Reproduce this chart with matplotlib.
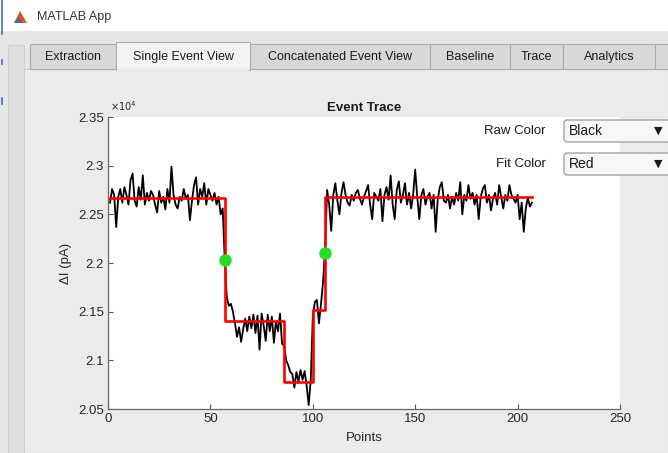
import numpy as np
import matplotlib
matplotlib.use('Agg')
import matplotlib.pyplot as plt
from matplotlib.patches import Rectangle, FancyBboxPatch, Polygon

plt.rcParams['font.family'] = ['Liberation Sans', 'DejaVu Sans']

# raw event trace (pA), one value per point
raw_current = [
    22620, 22760, 22700, 22370, 22680, 22760, 22620, 22780, 22700, 22600,
    22850, 22920, 22640, 22580, 22780, 22650, 22900, 22600, 22720, 22640,
    22740, 22700, 22600, 22520, 22740, 22620, 22680, 22550, 22760, 22620,
    22990, 22700, 22600, 22560, 22680, 22640, 22760, 22660, 22700, 22440,
    22640, 22800, 22880, 22600, 22760, 22680, 22820, 22600, 22760, 22700,
    22640, 22720, 22600, 22680, 22500, 22560,
    22030,
    21650, 21560, 21580, 21500, 21380, 21240, 21340, 21190, 21320, 21430,
    21300, 21450, 21330, 21470, 21280, 21460, 21110, 21480, 21360, 21200,
    21470, 21300, 21450, 21180, 21400, 21300, 21480, 21170,
    21150, 21000, 20950, 20880, 20860, 20720, 20880, 20780, 20900, 20800,
    20890, 20740, 20540, 20800,
    21450, 21600, 21620, 21380, 21580, 21800, 22150,
    22750, 22600, 22330, 22700, 22820, 22640, 22500, 22720, 22830, 22700,
    22620, 22590, 22700, 22640, 22720, 22750, 22660, 22600, 22680, 22740,
    22800, 22600, 22450, 22720, 22680, 22640, 22760, 22430, 22700, 22780,
    22650, 22900, 22600, 22450, 22750, 22840, 22620, 22700, 22820, 22600,
    22720, 22560, 22700, 22960, 22680, 22450, 22700, 22760, 22600, 22680,
    22720, 22560, 22700, 22320, 22650, 22780, 22830, 22640, 22620, 22700,
    22560, 22680, 22600, 22720, 22640, 22830, 22500, 22700, 22640, 22800,
    22660, 22720, 22600, 22700, 22450, 22680, 22760, 22800, 22620, 22700,
    22540, 22660, 22720, 22600, 22800, 22680, 22560, 22700, 22640, 22800,
    22700, 22660, 22620, 22700, 22450, 22620, 22320, 22560, 22670, 22580,
    22620,
]
points = np.arange(1, len(raw_current) + 1)

# step fit: level changes and levels
fit_breaks = [1, 57, 86, 100, 106, 207]
fit_levels = [22665, 21400, 20780, 21520, 22680]

# event start / end markers
marker_x = [57, 106]
marker_y = [22030, 22100]

xticks = [0, 50, 100, 150, 200, 250]
yticks = [20500, 21000, 21500, 22000, 22500, 23000, 23500]
ytick_labels = ['2.05', '2.1', '2.15', '2.2', '2.25', '2.3', '2.35']

tab_names = ['Extraction', 'Single Event View', 'Concatenated Event View',
             'Baseline', 'Trace', 'Analytics', '']
tab_edges = [30, 116, 250, 430, 510, 563, 655, 700]
selected_tab = 1

W, H = 668, 453
fig = plt.figure(figsize=(W / 100, H / 100), dpi=100)
fig.patch.set_facecolor('#e8e8e8')

# ---- window chrome, drawn in pixel coords
bg = fig.add_axes([0, 0, 1, 1])
bg.set_xlim(0, W)
bg.set_ylim(H, 0)
bg.axis('off')
bg.add_patch(Rectangle((0, 0), W, 31, facecolor='white', edgecolor='none'))
bg.add_patch(Rectangle((0, 31), W, H - 31, facecolor='#e6e6e6', edgecolor='none'))
bg.add_patch(Rectangle((8, 45), 16, H - 45, facecolor='#dedede', edgecolor='#cfcfcf', lw=0.8))
bg.add_patch(Rectangle((24, 69), W - 24, H - 69, facecolor='#ebebeb', edgecolor='#cdcdcd', lw=0.8))
bg.plot([2, 2], [0, 34], color='#4a6fa5', lw=1.2)
bg.plot([2, 2], [60, 64], color='#4a6fa5', lw=1.2)
bg.plot([2, 2], [98, 104], color='#4a6fa5', lw=1.2)
# little app icon
bg.add_patch(Polygon([[14, 23], [20, 11], [27, 23]], closed=True,
                     facecolor='#d9541e', edgecolor='none'))
bg.add_patch(Polygon([[14, 23], [19, 17], [22, 23]], closed=True,
                     facecolor='#2f6fb0', edgecolor='none'))
bg.text(37, 17, 'MATLAB App', fontsize=9, color='#333333', va='center', ha='left')

for i, name in enumerate(tab_names):
    x0, x1 = tab_edges[i], tab_edges[i + 1]
    if i == selected_tab:
        continue
    bg.add_patch(Rectangle((x0, 44), x1 - x0, 25, facecolor='#d8d8d8',
                           edgecolor='#ababab', lw=0.8))
    bg.text((x0 + x1) / 2, 57, name, fontsize=9, color='#1a1a1a',
            ha='center', va='center')
x0, x1 = tab_edges[selected_tab], tab_edges[selected_tab + 1]
bg.add_patch(Rectangle((x0, 42), x1 - x0, 28, facecolor='#f3f3f3',
                       edgecolor='#ababab', lw=0.8))
bg.add_patch(Rectangle((x0 + 0.6, 68), x1 - x0 - 1.2, 3, facecolor='#ebebeb',
                       edgecolor='none'))
bg.text((x0 + x1) / 2, 57, tab_names[selected_tab], fontsize=9,
        color='#1a1a1a', ha='center', va='center')

# ---- the plot
ax = fig.add_axes([108 / W, 44 / H, 512 / W, 292 / H])
ax.set_facecolor('white')
ax.plot(points, raw_current, color='black', lw=1.3, zorder=2)
ax.plot(fit_breaks, fit_levels + [fit_levels[-1]], color='#ff0000', lw=1.9,
        drawstyle='steps-post', zorder=3)
ax.plot(marker_x, marker_y, 'o', color='#22e022', markersize=8, zorder=4)

ax.set_xlim(0, 250)
ax.set_ylim(20500, 23500)
ax.set_xticks(xticks)
ax.set_yticks(yticks)
ax.set_yticklabels(ytick_labels)
ax.tick_params(direction='in', length=3.5, width=0.8, colors='#555555',
               labelcolor='#262626', labelsize=9.5, pad=3)
for s in ['top', 'right']:
    ax.spines[s].set_visible(False)
for s in ['left', 'bottom']:
    ax.spines[s].set_color('#666666')
    ax.spines[s].set_linewidth(0.9)

ax.set_xlabel('Points', fontsize=9.5, color='#262626')
ax.xaxis.set_label_coords(0.5, -0.078)
ax.set_ylabel('ΔI (pA)', fontsize=9.5, color='#262626')
ax.yaxis.set_label_coords(-0.07, 0.5)
ax.text(0.003, 1.012, r'$\times10^{4}$', transform=ax.transAxes, fontsize=7,
        color='#262626', ha='left', va='bottom')
ax.set_title('Event Trace', fontsize=9.5, fontweight='bold', color='#1a1a1a', pad=4)

# ---- dropdowns on top
ui = fig.add_axes([0, 0, 1, 1])
ui.set_xlim(0, W)
ui.set_ylim(H, 0)
ui.axis('off')
ui.patch.set_alpha(0)
for label, value, yc in [('Raw Color', 'Black', 131), ('Fit Color', 'Red', 164)]:
    ui.text(546, yc, label, fontsize=9.5, color='#1a1a1a', ha='right', va='center')
    ui.add_patch(FancyBboxPatch((564, yc - 11), 120, 22,
                                boxstyle='round,pad=0,rounding_size=3',
                                facecolor='#f7f7f7', edgecolor='#9a9a9a', lw=0.9))
    ui.text(569, yc, value, fontsize=10, color='#1a1a1a', ha='left', va='center')
    ui.text(658, yc, '▼', fontsize=8, color='#1a1a1a', ha='center', va='center',
            family=['DejaVu Sans'])

fig.savefig('out.png', dpi=100)
